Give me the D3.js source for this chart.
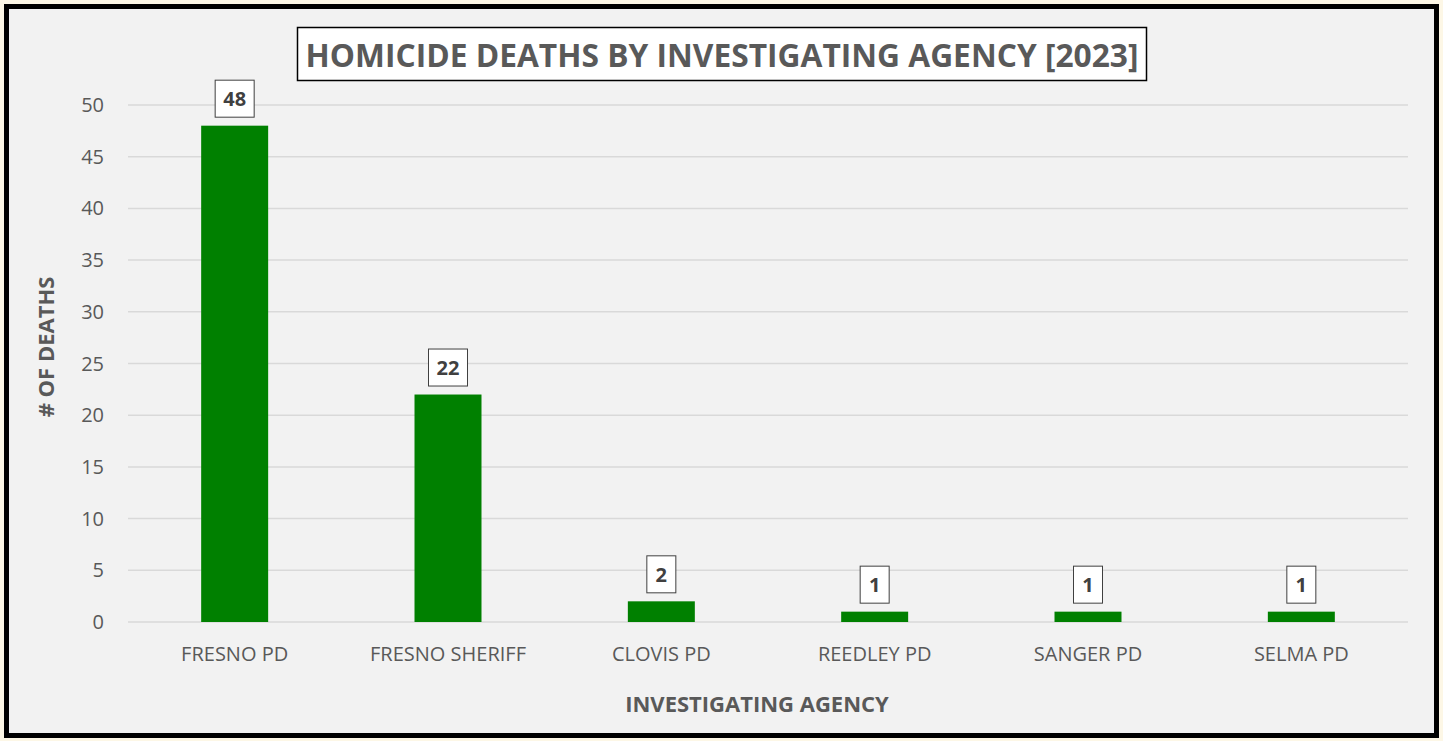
<!DOCTYPE html>
<html>
<head>
<meta charset="utf-8">
<script src="https://cdn.jsdelivr.net/npm/d3@7.9.0/dist/d3.min.js"></script>
<style>
  html, body { margin: 0; padding: 0; background: #fdf7e6; }
  svg { display: block; }
</style>
</head>
<body>
<svg id="chart" width="1443" height="741"></svg>
<script>
const agencies = ["FRESNO PD", "FRESNO SHERIFF", "CLOVIS PD", "REEDLEY PD", "SANGER PD", "SELMA PD"];
const deaths = [48, 22, 2, 1, 1, 1];
const yTicks = [0, 5, 10, 15, 20, 25, 30, 35, 40, 45, 50];

const width = 1443, height = 741;
const margin = { top: 105, right: 35, bottom: 119, left: 128 };
const font = "'Open Sans', 'Liberation Sans', sans-serif";
const textColor = "#595959";

const svg = d3.select("#chart");

// frame
svg.append("rect")
  .attr("x", 6.5).attr("y", 6.5)
  .attr("width", width - 13).attr("height", height - 12)
  .attr("fill", "#f2f2f2")
  .attr("stroke", "#000")
  .attr("stroke-width", 5);

const x = d3.scaleBand()
  .domain(agencies)
  .range([margin.left, width - margin.right])
  .paddingInner(0.686)
  .paddingOuter(0.343);

const y = d3.scaleLinear()
  .domain([0, 50])
  .range([height - margin.bottom, margin.top]);

// gridlines
svg.append("g")
  .selectAll("line")
  .data(yTicks)
  .join("line")
  .attr("x1", margin.left)
  .attr("x2", width - margin.right)
  .attr("y1", d => y(d))
  .attr("y2", d => y(d))
  .attr("stroke", "#d9d9d9")
  .attr("stroke-width", 1.5);

// y tick labels
svg.append("g")
  .selectAll("text")
  .data(yTicks)
  .join("text")
  .attr("x", 104)
  .attr("y", d => y(d))
  .attr("dy", "0.35em")
  .attr("text-anchor", "end")
  .style("font-family", font)
  .style("font-size", "20px")
  .attr("fill", textColor)
  .text(d => d);

// bars
svg.append("g")
  .selectAll("rect")
  .data(agencies)
  .join("rect")
  .attr("x", d => x(d))
  .attr("y", (d, i) => y(deaths[i]))
  .attr("width", x.bandwidth())
  .attr("height", (d, i) => y(0) - y(deaths[i]))
  .attr("fill", "#008000");

// value labels
const labels = svg.append("g")
  .selectAll("g")
  .data(agencies)
  .join("g")
  .attr("transform", (d, i) => `translate(${x(d) + x.bandwidth() / 2},${y(deaths[i]) - 27})`);

labels.append("rect")
  .attr("x", (d, i) => String(deaths[i]).length > 1 ? -19.5 : -14.5)
  .attr("y", -18.5)
  .attr("width", (d, i) => String(deaths[i]).length > 1 ? 39 : 29)
  .attr("height", 37)
  .attr("fill", "#fff")
  .attr("stroke", "#404040")
  .attr("stroke-width", 1);

labels.append("text")
  .attr("text-anchor", "middle")
  .attr("dy", "0.36em")
  .style("font-family", font)
  .style("font-size", "20px")
  .style("font-weight", "bold")
  .attr("fill", "#404040")
  .text((d, i) => deaths[i]);

// x category labels
svg.append("g")
  .selectAll("text")
  .data(agencies)
  .join("text")
  .attr("x", d => x(d) + x.bandwidth() / 2)
  .attr("y", 661)
  .attr("text-anchor", "middle")
  .style("font-family", font)
  .style("font-size", "20px")
  .attr("fill", textColor)
  .text(d => d);

// axis titles
svg.append("text")
  .attr("x", 757)
  .attr("y", 712)
  .attr("text-anchor", "middle")
  .style("font-family", font)
  .style("font-size", "22px")
  .style("font-weight", "bold")
  .attr("fill", textColor)
  .text("INVESTIGATING AGENCY");

svg.append("text")
  .attr("transform", "rotate(-90)")
  .attr("x", -347)
  .attr("y", 54)
  .attr("text-anchor", "middle")
  .style("font-family", font)
  .style("font-size", "22px")
  .style("font-weight", "bold")
  .attr("fill", textColor)
  .text("# OF DEATHS");

// title box
svg.append("rect")
  .attr("x", 297.5).attr("y", 27.5)
  .attr("width", 849).attr("height", 53)
  .attr("fill", "#fff")
  .attr("stroke", "#000")
  .attr("stroke-width", 1.5);

svg.append("text")
  .attr("x", 722)
  .attr("y", 67)
  .attr("text-anchor", "middle")
  .attr("textLength", 833)
  .attr("lengthAdjust", "spacingAndGlyphs")
  .style("font-family", font)
  .style("font-size", "33px")
  .style("font-weight", "bold")
  .attr("fill", textColor)
  .text("HOMICIDE DEATHS BY INVESTIGATING AGENCY [2023]");
</script>
</body>
</html>
